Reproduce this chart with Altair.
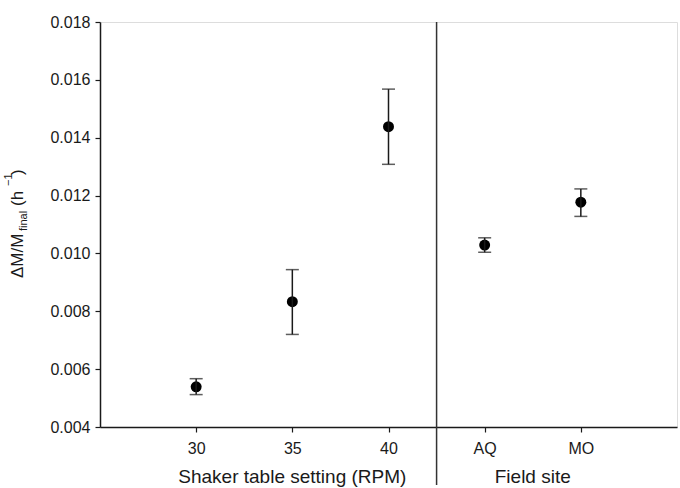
import altair as alt
import pandas as pd

# Data
labels = ["30", "35", "40", "AQ", "MO"]
positions = [0, 1, 2, 3, 4]
means = [0.00539, 0.00833, 0.01438, 0.01029, 0.01177]
upper = [0.00567, 0.00944, 0.01568, 0.01054, 0.01223]
lower = [0.00512, 0.00720, 0.01308, 0.01004, 0.01128]
y_ticks = [0.004, 0.006, 0.008, 0.010, 0.012, 0.014, 0.016, 0.018]
group_titles = ["Shaker table setting (RPM)", "Field site"]
group_centers = [1, 3.5]
divider_pos = [2.5]

df = pd.DataFrame({"pos": positions, "label": labels, "mean": means,
                   "upper": upper, "lower": lower})
W, H = 577, 405
FONT = "Liberation Sans"
INK = "#1a1a1a"

label_expr = "[" + ",".join(f"'{l}'" for l in labels) + "][datum.value]"

xscale = alt.Scale(domain=[-1, 5], nice=False, zero=False)
yscale = alt.Scale(domain=[0.004, 0.018], nice=False, zero=False)

base = alt.Chart(df)

x_enc = alt.X("pos:Q", scale=xscale,
              axis=alt.Axis(values=positions, labelExpr=label_expr, title=None,
                            grid=False, tickSize=5, domainColor=INK, tickColor=INK,
                            labelColor=INK, labelFont=FONT, labelFontSize=16,
                            labelPadding=8, domainWidth=1.5, tickWidth=1.2))
y_enc = alt.Y("mean:Q", scale=yscale,
              axis=alt.Axis(values=y_ticks, format=".3f", title=None, grid=False,
                            tickSize=5, domainColor=INK, tickColor=INK,
                            labelColor=INK, labelFont=FONT, labelFontSize=16,
                            labelPadding=5, domainWidth=1.5, tickWidth=1.2))

bars = base.mark_rule(color=INK, strokeWidth=1.5).encode(
    x=alt.X("pos:Q", scale=xscale), y=alt.Y("lower:Q", scale=yscale), y2="upper:Q")
cap_top = base.mark_tick(color=INK, orient="horizontal", size=13, thickness=1.5).encode(
    x=alt.X("pos:Q", scale=xscale), y=alt.Y("upper:Q", scale=yscale))
cap_bot = base.mark_tick(color=INK, orient="horizontal", size=13, thickness=1.5).encode(
    x=alt.X("pos:Q", scale=xscale), y=alt.Y("lower:Q", scale=yscale))
points = base.mark_point(filled=True, color="black", opacity=1, size=120, shape="circle").encode(
    x=x_enc, y=y_enc)

divider = alt.Chart(pd.DataFrame({"d": divider_pos})).mark_rule(
    color="#333333", strokeWidth=1.5, clip=False).encode(
    x=alt.X("d:Q", scale=xscale), y=alt.value(0), y2=alt.value(463))

gt = alt.Chart(pd.DataFrame({"c": group_centers, "t": group_titles})).mark_text(
    font=FONT, fontSize=19, color=INK, baseline="alphabetic", clip=False).encode(
    x=alt.X("c:Q", scale=xscale), y=alt.value(H + 56), text="t:N")

# rotated y-axis title pieces
ytitle_parts = ["ΔM/M", "final", "(h", "−1", ")"]
def ypiece(text, ypix, xpix, size):
    return alt.Chart(pd.DataFrame({"t": [text]})).mark_text(
        font=FONT, fontSize=size, color=INK, angle=270, align="left",
        baseline="alphabetic", clip=False).encode(
        text="t:N", x=alt.value(xpix), y=alt.value(ypix))

yt = (ypiece(ytitle_parts[0], 278 - 22, 23 - 100, 17)
      + ypiece(ytitle_parts[1], 231 - 22, 27 - 100, 11)
      + ypiece(ytitle_parts[2], 206 - 22, 23 - 100, 17)
      + ypiece(ytitle_parts[3], 186 - 22, 12 - 100, 11)
      + ypiece(ytitle_parts[4], 175 - 22, 23 - 100, 17))

chart = alt.layer(points, bars, cap_top, cap_bot, divider, gt, yt).properties(
    width=W, height=H,
    autosize=alt.AutoSizeParams(type="none"),
    padding={"left": 100, "top": 22, "right": 3, "bottom": 61},
).configure_view(stroke=None).configure_axisX(domainCap="square").configure(background="white")

chart.save("out.html", embed_options={"renderer": "svg", "actions": False})
